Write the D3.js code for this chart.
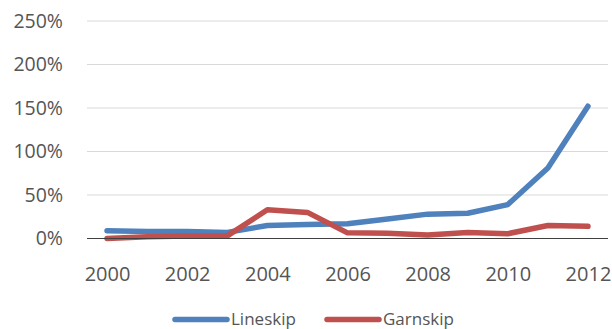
<!DOCTYPE html>
<html>
<head>
<meta charset="utf-8">
<script src="https://cdn.jsdelivr.net/npm/d3@7"></script>
<style>
  html, body { margin: 0; padding: 0; background: #fff; }
  svg { display: block; }
  text { font-family: "Open Sans", "Liberation Sans", sans-serif; fill: #555; }
</style>
</head>
<body>
<svg id="chart" width="612" height="329"></svg>
<script>
// Yearly change, as fraction of base level
const years = [2000, 2001, 2002, 2003, 2004, 2005, 2006, 2007, 2008, 2009, 2010, 2011, 2012];
const lineskip = [0.09, 0.08, 0.08, 0.07, 0.15, 0.16, 0.17, 0.225, 0.28, 0.29, 0.39, 0.81, 1.52];
const garnskip = [0.00, 0.02, 0.03, 0.03, 0.33, 0.30, 0.065, 0.06, 0.04, 0.07, 0.055, 0.15, 0.14];
const yTicks = [0, 0.5, 1.0, 1.5, 2.0, 2.5];
const xTickYears = [2000, 2002, 2004, 2006, 2008, 2010, 2012];
const seriesNames = ["Lineskip", "Garnskip"];
const seriesColors = ["#4f81bd", "#c0504d"];

const svg = d3.select("#chart");
const plot = { left: 87, right: 608, top: 21, bottom: 238.5 };

const x = d3.scalePoint().domain(years).range([plot.left, plot.right]).padding(0.5);
const y = d3.scaleLinear().domain([0, 2.5]).range([plot.bottom, plot.top]);

const fontStack = '"Open Sans", "Liberation Sans", sans-serif';

// Horizontal gridlines
svg.append("g")
  .selectAll("line")
  .data(yTicks.filter(d => d > 0))
  .join("line")
  .attr("x1", plot.left).attr("x2", plot.right)
  .attr("y1", d => y(d)).attr("y2", d => y(d))
  .attr("stroke", "#d9d9d9").attr("stroke-width", 1.2);

// Y axis labels
const yAxis = d3.axisLeft(y).tickValues(yTicks)
  .tickFormat(d => Math.round(d * 100) + "%").tickSize(0).tickPadding(0);
svg.append("g")
  .attr("transform", `translate(${plot.left - 24},0)`)
  .call(yAxis)
  .call(g => g.select(".domain").remove())
  .call(g => g.selectAll("text").attr("font-size", 19.5).attr("fill", "#555")
    .style("font-family", fontStack));

// X axis labels (every other year)
const xAxis = d3.axisBottom(x).tickValues(xTickYears).tickSize(0).tickPadding(0);
svg.append("g")
  .attr("transform", `translate(0,${plot.bottom + 28})`)
  .call(xAxis)
  .call(g => g.select(".domain").remove())
  .call(g => g.selectAll("text").attr("font-size", 20).attr("fill", "#555")
    .style("font-family", fontStack));

// Series lines
const line = d3.line().x((d, i) => x(years[i])).y(d => y(d));
[lineskip, garnskip].forEach((vals, k) => {
  svg.append("path")
    .datum(vals)
    .attr("d", line)
    .attr("fill", "none")
    .attr("stroke", seriesColors[k])
    .attr("stroke-width", 5.5)
    .attr("stroke-linejoin", "round")
    .attr("stroke-linecap", "round");
});

// Zero baseline
svg.append("line")
  .attr("x1", plot.left).attr("x2", plot.right)
  .attr("y1", y(0)).attr("y2", y(0))
  .attr("stroke", "#404040").attr("stroke-width", 1.2);

// Legend
const legendItems = [
  { name: seriesNames[0], color: seriesColors[0], x0: 175 },
  { name: seriesNames[1], color: seriesColors[1], x0: 327 }
];
const legend = svg.append("g");
legendItems.forEach(it => {
  legend.append("line")
    .attr("x1", it.x0).attr("x2", it.x0 + 52)
    .attr("y1", 319.5).attr("y2", 319.5)
    .attr("stroke", it.color).attr("stroke-width", 5.5)
    .attr("stroke-linecap", "round");
  legend.append("text")
    .attr("x", it.x0 + 56).attr("y", 324.5)
    .attr("font-size", 17)
    .attr("fill", "#555")
    .text(it.name);
});
</script>
</body>
</html>
